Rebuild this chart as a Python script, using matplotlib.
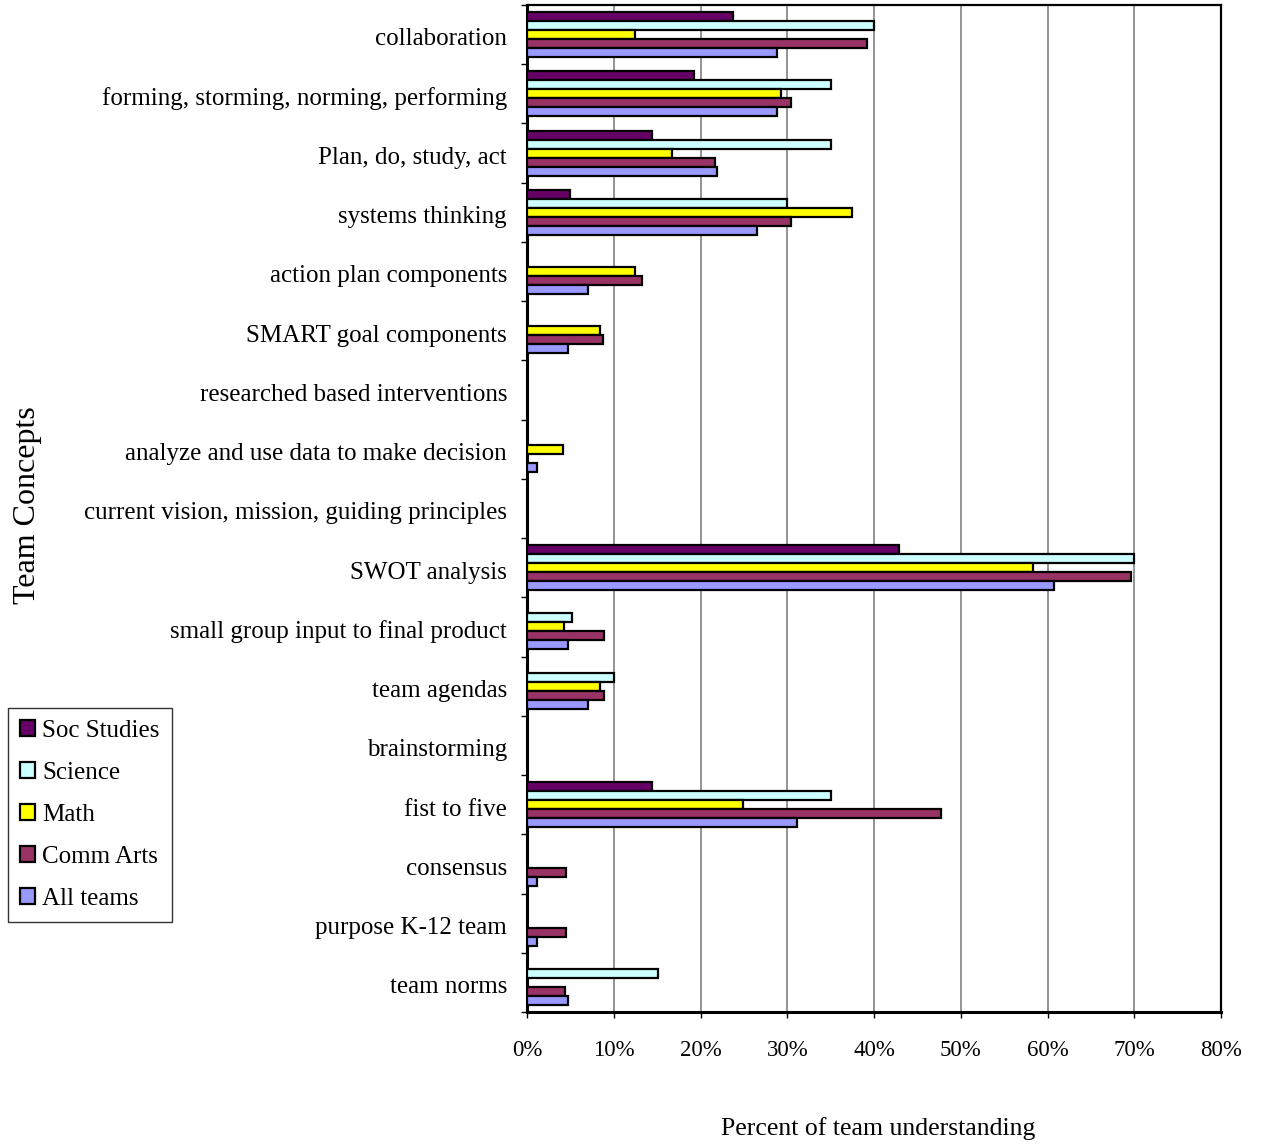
import matplotlib
matplotlib.use("Agg")
import matplotlib.pyplot as plt
import numpy as np
from matplotlib.ticker import FixedLocator, PercentFormatter

categories = [
    "collaboration",
    "forming, storming, norming, performing",
    "Plan, do, study, act",
    "systems thinking",
    "action plan components",
    "SMART goal components",
    "researched based interventions",
    "analyze and use data to make decision",
    "current vision, mission, guiding principles",
    "SWOT analysis",
    "small group input to final product",
    "team agendas",
    "brainstorming",
    "fist to five",
    "consensus",
    "purpose K-12 team",
    "team norms",
]

series_names = ["Soc Studies", "Science", "Math", "Comm Arts", "All teams"]

soc_studies = [23.8, 19.2, 14.4, 4.9, 0, 0, 0, 0, 0, 42.9, 0, 0, 0, 14.4, 0, 0, 0]
science     = [40.0, 35.0, 35.0, 30.0, 0, 0, 0, 0, 0, 70.0, 5.2, 10.0, 0, 35.0, 0, 0, 15.1]
math_       = [12.5, 29.3, 16.7, 37.5, 12.5, 8.4, 0, 4.2, 0, 58.3, 4.3, 8.4, 0, 24.9, 0, 0, 0]
comm_arts   = [39.2, 30.4, 21.7, 30.4, 13.2, 8.8, 0, 0, 0, 69.6, 8.9, 8.9, 0, 47.7, 4.5, 4.5, 4.4]
all_teams   = [28.8, 28.8, 21.9, 26.5, 7.0, 4.7, 0, 1.2, 0, 60.8, 4.7, 7.0, 0, 31.1, 1.2, 1.2, 4.7]

colors = ["#660066", "#CCFFFF", "#FFFF00", "#993366", "#9999FF"]

x_ticks = [0, 10, 20, 30, 40, 50, 60, 70, 80]

plt.rcParams["font.family"] = ["Liberation Serif", "DejaVu Serif"]

fig = plt.figure(figsize=(12.62, 11.45), dpi=100)
ax = fig.add_axes([527/1262, 1 - 1012/1145, (1221-527)/1262, (1012-5)/1145])

n = len(categories)
# first category at top
centers = np.arange(n)[::-1].astype(float)
bar_h = 0.152
all_series = [soc_studies, science, math_, comm_arts, all_teams]
offsets = [2, 1, 0, -1, -2]
handles = []
for vals, col, off, name in zip(all_series, colors, offsets, series_names):
    vals = np.array(vals)
    mask = vals > 0
    h = ax.barh(centers[mask] + off * bar_h, vals[mask], height=bar_h,
                color=col, edgecolor="black", linewidth=1.6, label=name, zorder=3)
    handles.append(h)

ax.set_xlim(0, 80)
ax.set_ylim(-0.5, n - 0.5)
ax.xaxis.set_major_locator(FixedLocator(x_ticks))
ax.xaxis.set_major_formatter(PercentFormatter(decimals=0))
ax.grid(axis="x", color="#808080", linewidth=1.2, zorder=0)

# y ticks: marks at boundaries, labels at centers
ax.yaxis.set_major_locator(FixedLocator(np.arange(-0.5, n, 1.0)))
ax.set_yticklabels([])
ax.set_yticks(centers - 0.04, minor=True)
ax.set_yticklabels(categories, minor=True)
ax.tick_params(axis="y", which="major", length=4.5, width=1, direction="out")
ax.tick_params(axis="y", which="minor", length=0, pad=14.4, labelsize=18)
ax.tick_params(axis="x", which="major", length=4.5, width=1, direction="out", pad=15.5, labelsize=16.5)

for s in ["left", "bottom"]:
    ax.spines[s].set_linewidth(2.2)
for s in ["top", "right"]:
    ax.spines[s].set_linewidth(1.6)

fig.text(878/1262, 1 - 1129/1145, "Percent of team understanding", ha="center", va="center", fontsize=18.5)
fig.text(28/1262, 1 - 505/1145, "Team Concepts", ha="center", va="center", rotation=90, fontsize=23)

leg = fig.legend(handles=handles, labels=series_names,
                 loc="upper left", bbox_to_anchor=(8/1262, 1 - 708/1145),
                 frameon=True, fancybox=False, edgecolor="black",
                 fontsize=18, handlelength=0.6, handleheight=0.6,
                 handletextpad=0.3, labelspacing=0.8, borderpad=0.48,
                 borderaxespad=0)
leg.get_frame().set_linewidth(1.0)

fig.savefig("out.png", dpi=100)
